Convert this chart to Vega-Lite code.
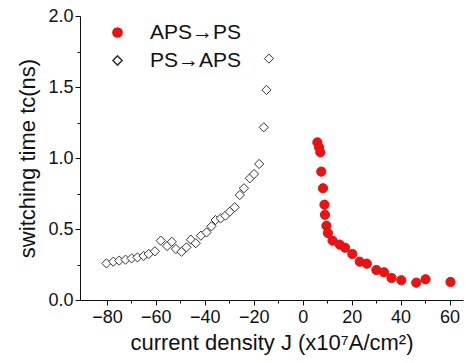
{
  "$schema": "https://vega.github.io/schema/vega-lite/v6.json",
  "width": 383,
  "height": 284,
  "autosize": {"type": "none"},
  "padding": {"left": 80, "top": 16, "right": 3, "bottom": 63},
  "background": "white",
  "config": {
    "view": {"stroke": null},
    "font": "Liberation Sans",
    "axis": {
      "domainColor": "#111",
      "domainWidth": 1,
      "tickColor": "#111",
      "tickWidth": 1,
      "grid": false,
      "labelColor": "#111",
      "titleColor": "#111",
      "labelFont": "Liberation Sans",
      "titleFont": "Liberation Sans",
      "titleFontWeight": "normal",
      "labelFontSize": 18,
      "labelFlush": false,
      "labelOverlap": false,
      "labelBound": false
    }
  },
  "data": {
    "values": [
      {"J": -80.2, "t": 0.258, "s": "PS→APS"},
      {"J": -77.4, "t": 0.270, "s": "PS→APS"},
      {"J": -75.0, "t": 0.277, "s": "PS→APS"},
      {"J": -72.4, "t": 0.284, "s": "PS→APS"},
      {"J": -69.9, "t": 0.293, "s": "PS→APS"},
      {"J": -67.5, "t": 0.300, "s": "PS→APS"},
      {"J": -65.0, "t": 0.310, "s": "PS→APS"},
      {"J": -62.9, "t": 0.324, "s": "PS→APS"},
      {"J": -60.4, "t": 0.343, "s": "PS→APS"},
      {"J": -58.0, "t": 0.418, "s": "PS→APS"},
      {"J": -55.4, "t": 0.380, "s": "PS→APS"},
      {"J": -53.5, "t": 0.410, "s": "PS→APS"},
      {"J": -51.8, "t": 0.359, "s": "PS→APS"},
      {"J": -49.5, "t": 0.340, "s": "PS→APS"},
      {"J": -47.5, "t": 0.371, "s": "PS→APS"},
      {"J": -45.7, "t": 0.425, "s": "PS→APS"},
      {"J": -43.7, "t": 0.400, "s": "PS→APS"},
      {"J": -41.6, "t": 0.453, "s": "PS→APS"},
      {"J": -39.3, "t": 0.476, "s": "PS→APS"},
      {"J": -37.3, "t": 0.519, "s": "PS→APS"},
      {"J": -35.6, "t": 0.563, "s": "PS→APS"},
      {"J": -33.5, "t": 0.575, "s": "PS→APS"},
      {"J": -31.6, "t": 0.594, "s": "PS→APS"},
      {"J": -29.8, "t": 0.622, "s": "PS→APS"},
      {"J": -27.8, "t": 0.653, "s": "PS→APS"},
      {"J": -25.7, "t": 0.739, "s": "PS→APS"},
      {"J": -24.0, "t": 0.787, "s": "PS→APS"},
      {"J": -21.6, "t": 0.857, "s": "PS→APS"},
      {"J": -19.9, "t": 0.887, "s": "PS→APS"},
      {"J": -17.8, "t": 0.958, "s": "PS→APS"},
      {"J": -15.9, "t": 1.216, "s": "PS→APS"},
      {"J": -14.8, "t": 1.479, "s": "PS→APS"},
      {"J": -13.8, "t": 1.700, "s": "PS→APS"},
      {"J": 6.0, "t": 1.110, "s": "APS→PS"},
      {"J": 6.7, "t": 1.075, "s": "APS→PS"},
      {"J": 7.2, "t": 1.040, "s": "APS→PS"},
      {"J": 7.6, "t": 0.904, "s": "APS→PS"},
      {"J": 8.3, "t": 0.787, "s": "APS→PS"},
      {"J": 8.9, "t": 0.671, "s": "APS→PS"},
      {"J": 9.1, "t": 0.600, "s": "APS→PS"},
      {"J": 9.7, "t": 0.523, "s": "APS→PS"},
      {"J": 10.3, "t": 0.472, "s": "APS→PS"},
      {"J": 12.2, "t": 0.418, "s": "APS→PS"},
      {"J": 15.1, "t": 0.390, "s": "APS→PS"},
      {"J": 17.3, "t": 0.368, "s": "APS→PS"},
      {"J": 20.3, "t": 0.324, "s": "APS→PS"},
      {"J": 23.3, "t": 0.270, "s": "APS→PS"},
      {"J": 26.2, "t": 0.256, "s": "APS→PS"},
      {"J": 30.1, "t": 0.211, "s": "APS→PS"},
      {"J": 33.2, "t": 0.195, "s": "APS→PS"},
      {"J": 36.3, "t": 0.155, "s": "APS→PS"},
      {"J": 40.3, "t": 0.139, "s": "APS→PS"},
      {"J": 46.4, "t": 0.122, "s": "APS→PS"},
      {"J": 50.2, "t": 0.146, "s": "APS→PS"},
      {"J": 60.4, "t": 0.127, "s": "APS→PS"}
    ]
  },
  "mark": {"type": "point", "size": 85, "strokeWidth": 1, "opacity": 1},
  "encoding": {
    "x": {
      "field": "J",
      "type": "quantitative",
      "scale": {"domain": [-91, 65.5], "nice": false, "zero": false},
      "axis": {
        "title": "current density J (x10⁷A/cm²)",
        "titleFontSize": 22,
        "titlePadding": 6,
        "values": [-80, -70, -60, -50, -40, -30, -20, -10, 0, 10, 20, 30, 40, 50, 60],
        "labelExpr": "datum.value % 20 == 0 ? datum.label : ''",
        "tickSize": {"condition": {"test": "datum.value % 20 != 0", "value": 3}, "value": 5},
        "labelPadding": 3
      }
    },
    "y": {
      "field": "t",
      "type": "quantitative",
      "scale": {"domain": [0, 2], "nice": false},
      "axis": {
        "title": "switching time tc(ns)",
        "titleFontSize": 22,
        "titlePadding": 8,
        "values": [0, 0.25, 0.5, 0.75, 1, 1.25, 1.5, 1.75, 2],
        "format": ".1f",
        "labelExpr": "(datum.value * 2) % 1 == 0 ? datum.label : ''",
        "tickSize": {"condition": {"test": "(datum.value * 2) % 1 != 0", "value": 3}, "value": 5},
        "labelPadding": 2
      }
    },
    "shape": {
      "field": "s",
      "type": "nominal",
      "scale": {"domain": ["APS→PS", "PS→APS"], "range": ["circle", "diamond"]},
      "legend": {
        "orient": "none",
        "legendX": 27,
        "legendY": 6,
        "title": null,
        "labelFontSize": 21,
        "labelColor": "#111",
        "labelFont": "Liberation Sans",
        "labelOffset": 22,
        "symbolSize": 85,
        "rowPadding": 6,
        "padding": 0
      }
    },
    "fill": {
      "field": "s",
      "type": "nominal",
      "scale": {"domain": ["APS→PS", "PS→APS"], "range": ["#ee1111", "white"]},
      "legend": null
    },
    "stroke": {
      "field": "s",
      "type": "nominal",
      "scale": {"domain": ["APS→PS", "PS→APS"], "range": ["#dd1111", "#333333"]},
      "legend": null
    }
  }
}
